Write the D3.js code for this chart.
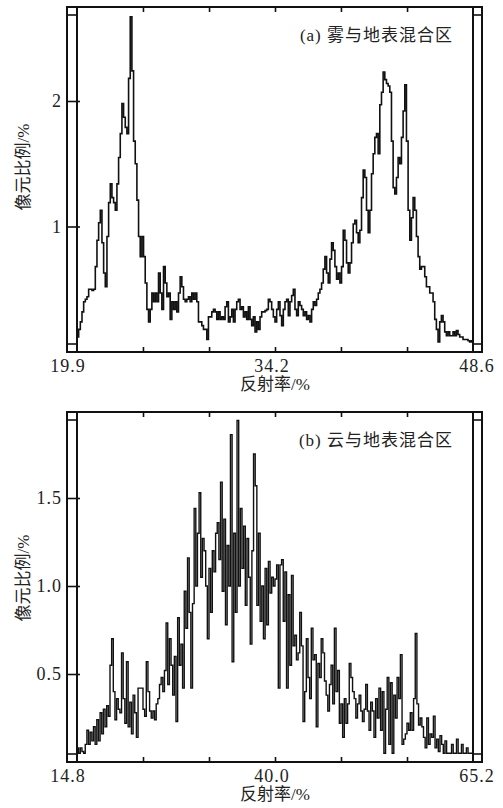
<!DOCTYPE html>
<html>
<head>
<meta charset="utf-8">
<script src="https://cdn.jsdelivr.net/npm/d3@7"></script>
<style>
  body { margin: 0; background: #fff; }
  svg { display: block; }
  .num { font-family: "Liberation Serif", "DejaVu Serif", serif; font-size: 18px; fill: #222; letter-spacing: 1px; }
  .cjk { font-family: "Liberation Serif", "Noto Sans CJK SC", sans-serif; font-size: 17px; fill: #222; }
  .title { font-family: "Liberation Serif", "Noto Sans CJK SC", sans-serif; font-size: 17px; fill: #222; letter-spacing: 1px; }
</style>
</head>
<body>
<svg id="chart" width="503" height="808"></svg>
<script>
// (a) fog / surface mixed area: reflectance range and pixel share per bin (%)
const fogRange = [19.9, 48.6];
const fogValues = [
  0.12,0.18,0.24,0.32,0.40,0.42,0.44,0.50,0.50,0.49,0.50,0.68,0.89,1.03,1.13,0.87,0.63,0.52,0.92,1.19,
  1.34,1.23,1.19,1.13,1.34,1.55,1.74,1.98,1.87,1.79,1.74,2.18,2.67,2.24,1.68,1.50,1.21,0.92,0.76,0.92,
  0.76,0.55,0.34,0.24,
  0.34,0.47,0.40,0.47,0.40,0.63,0.47,0.34,0.68,0.55,0.44,0.47,0.26,0.40,0.34,0.40,0.32,0.47,0.60,0.52,
  0.42,0.40,0.42,0.44,0.40,0.47,0.42,0.47,0.40,0.24,0.24,0.21,0.18,0.18,0.10,0.28,0.28,0.32,0.34,0.32,
  0.26,0.32,0.26,0.28,0.26,0.36,0.40,0.24,0.28,0.34,0.24,0.34,0.40,0.42,0.34,0.36,0.28,0.32,0.26,0.36,
  0.26,0.21,0.28,0.16,0.24,0.18,0.28,0.32,0.32,0.33,0.34,0.42,0.40,0.34,0.28,
  0.24,0.34,0.40,0.29,0.21,0.34,0.40,0.42,0.29,0.40,0.45,0.50,0.34,0.29,0.40,0.37,0.34,0.29,0.32,0.26,
  0.29,0.24,0.34,0.40,0.37,0.42,0.47,0.50,0.55,0.66,0.76,0.63,0.55,0.74,0.87,0.81,0.68,0.58,0.63,0.55,
  0.68,0.97,0.89,0.71,0.63,0.71,0.87,1.02,1.05,0.95,0.87,0.97,1.23,1.45,1.39,1.13,0.95,1.13,1.42,1.58,
  1.71,1.74,1.58,1.97,2.07,2.23,2.17,2.14,2.12,2.07,1.68,1.31,1.26,1.39,1.55,1.50,1.71,1.92,2.13,1.68,
  1.13,0.89,1.07,1.23,1.13,0.92,0.76,0.66,0.68,0.68,0.60,0.52,0.52,0.47,0.47,0.40,0.26,0.18,0.08,0.24,
  0.29,0.24,0.16,0.13,0.16,0.13,0.13,0.16,0.13,0.17,0.14,0.12,0.12,0.10,0.10,0.10,0.09,0.08,0.09
];
const fogXTicks = [24.68, 29.47, 34.25, 39.03, 43.82];
const fogXLabels = [[19.9, "19.9"], [34.25, "34.2"], [48.6, "48.6"]];
const fogYTicks = [1, 2];
const fogYLabels = ["1", "2"];

// (b) cloud / surface mixed area
const cloudRange = [14.8, 65.2];
const cloudValues = [
  0.08,0.05,0.08,0.06,0.05,0.10,0.18,0.10,0.17,0.12,0.20,0.10,0.24,0.12,0.28,0.16,0.30,0.20,0.32,0.26,
  0.55,0.70,0.40,0.24,0.36,0.30,0.28,0.62,0.36,0.22,0.57,0.20,0.34,0.16,0.38,0.28,0.14,0.42,0.42,0.42,
  0.30,0.26,0.57,0.40,0.29,0.25,0.29,0.24,0.33,0.36,0.44,0.48,0.40,0.52,0.79,0.44,0.70,0.55,0.38,0.60,
  0.23,0.82,0.55,0.67,0.42,0.97,0.76,1.16,0.85,0.42,0.90,1.44,1.00,1.30,1.53,1.05,1.27,1.20,1.00,0.70,
  1.10,0.85,1.20,1.08,1.30,1.36,1.15,1.59,0.97,1.38,0.78,1.23,1.00,1.86,0.57,1.30,0.85,1.94,1.00,1.44,
  1.10,1.34,0.89,1.27,1.05,0.67,1.20,1.75,1.57,0.89,1.30,0.80,1.00,0.70,1.10,0.78,1.14,0.96,1.05,1.00,
  1.04,1.12,0.42,1.12,1.15,0.80,1.08,0.42,0.95,0.55,1.06,0.66,0.72,0.58,0.62,0.85,0.66,0.23,0.40,0.70,
  0.48,0.36,0.76,0.58,0.61,0.20,0.56,0.48,0.70,0.62,0.46,0.38,0.29,0.44,0.55,0.33,0.76,0.40,0.52,0.22,
  0.33,0.14,0.36,0.22,0.33,0.56,0.48,0.40,0.36,0.25,0.33,0.38,0.29,0.23,0.30,0.44,0.29,0.18,0.34,0.29,
  0.14,0.36,0.25,0.42,0.18,0.40,0.05,0.30,0.48,0.10,0.45,0.05,0.38,0.25,0.48,0.36,0.61,0.10,0.13,0.16,
  0.22,0.18,0.28,0.18,0.36,0.73,0.33,0.21,0.25,0.20,0.14,0.08,0.25,0.10,0.16,0.14,0.26,0.08,0.13,0.06,
  0.15,0.10,0.05,0.12,0.05,0.05,0.05,0.10,0.05,0.05,0.13,0.05,0.05,0.10,0.05,0.05,0.08,0.05,0.05,0.05
];
const cloudXTicks = [23.2, 31.6, 40.0, 48.4, 56.8];
const cloudXLabels = [[14.8, "14.8"], [40.0, "40.0"], [65.2, "65.2"]];
const cloudYTicks = [0.5, 1.0, 1.5];
const cloudYLabels = ["0.5", "1.0", "1.5"];

const svg = d3.select("#chart");

// Draw one histogram panel
function drawPanel(cfg) {
  const g = svg.append("g");
  const frame = { x0: 67, x1: 482, y0: cfg.top, y1: cfg.bottom };

  const x = d3.scaleLinear().domain(cfg.range).range([77, 473]);
  const y = d3.scaleLinear().domain([0, cfg.yRef]).range([cfg.bottom, cfg.yRefPx]);

  // histogram bins -> step points
  const w = (cfg.range[1] - cfg.range[0]) / cfg.values.length;
  const pts = cfg.values.map((v, i) => [cfg.range[0] + i * w, v]);
  pts.push([cfg.range[1], cfg.values[cfg.values.length - 1]]);

  const line = d3.line()
    .x(d => x(d[0]))
    .y(d => y(d[1]))
    .curve(d3.curveStepAfter);

  g.append("path")
    .datum(pts)
    .attr("d", line)
    .attr("fill", "none")
    .attr("stroke", "#111")
    .attr("stroke-width", cfg.lineWidth);

  // outer frame
  g.append("rect")
    .attr("x", frame.x0).attr("y", frame.y0)
    .attr("width", frame.x1 - frame.x0).attr("height", frame.y1 - frame.y0)
    .attr("fill", "none").attr("stroke", "#111").attr("stroke-width", 2);

  // inner limits of the data range
  cfg.range.forEach(r => {
    g.append("line")
      .attr("x1", x(r)).attr("x2", x(r))
      .attr("y1", frame.y0).attr("y2", frame.y1)
      .attr("stroke", "#111").attr("stroke-width", 2);
  });

  // little corner bars
  [[frame.x0, x(cfg.range[0])], [x(cfg.range[1]), frame.x1]].forEach(([a, b]) => {
    [frame.y0 + 8, frame.y1 - 8].forEach(yy => {
      g.append("line")
        .attr("x1", a).attr("x2", b).attr("y1", yy).attr("y2", yy)
        .attr("stroke", "#111").attr("stroke-width", 1.6);
    });
  });

  // x ticks on top and bottom borders (pointing inward)
  g.append("g")
    .attr("transform", `translate(0,${frame.y1})`)
    .call(d3.axisBottom(x).tickValues(cfg.xTicks).tickSize(-5).tickFormat(""))
    .call(a => a.select(".domain").remove())
    .selectAll("line").attr("stroke", "#111").attr("stroke-width", 1.6);

  g.append("g")
    .attr("transform", `translate(0,${frame.y0})`)
    .call(d3.axisTop(x).tickValues(cfg.xTicks).tickSize(-5).tickFormat(""))
    .call(a => a.select(".domain").remove())
    .selectAll("line").attr("stroke", "#111").attr("stroke-width", 1.6);

  // x tick labels
  const dxs = [-9, -3, 4];
  cfg.xLabels.forEach(([v, t], i) => {
    g.append("text")
      .attr("class", "num")
      .attr("x", x(v) + dxs[i])
      .attr("y", frame.y1 + 20)
      .attr("text-anchor", "middle")
      .text(t);
  });

  // y ticks from the outer frame
  g.append("g")
    .attr("transform", `translate(${frame.x0},0)`)
    .call(d3.axisLeft(y).tickValues(cfg.yTicks).tickSize(-13).tickFormat(""))
    .call(a => a.select(".domain").remove())
    .selectAll("line").attr("stroke", "#111").attr("stroke-width", 1.6);

  cfg.yTicks.forEach((v, i) => {
    g.append("text")
      .attr("class", "num")
      .attr("x", 62)
      .attr("y", y(v))
      .attr("dy", "0.35em")
      .attr("text-anchor", "end")
      .text(cfg.yLabels[i]);
  });

  // axis titles
  g.append("text")
    .attr("class", "cjk")
    .attr("x", 275)
    .attr("y", frame.y1 + 38)
    .attr("text-anchor", "middle")
    .text("反射率/%");

  g.append("text")
    .attr("class", "cjk")
    .attr("transform", `translate(29,${cfg.yLabelMid}) rotate(-90)`)
    .attr("text-anchor", "middle")
    .text("像元比例/%");

  // panel caption
  g.append("text")
    .attr("class", "title")
    .attr("x", 453)
    .attr("y", frame.y0 + 34)
    .attr("text-anchor", "end")
    .text(cfg.caption);
}

drawPanel({
  top: 7, bottom: 352, yRef: 2, yRefPx: 101,
  range: fogRange, values: fogValues, lineWidth: 1.6,
  xTicks: fogXTicks, xLabels: fogXLabels,
  yTicks: fogYTicks, yLabels: fogYLabels,
  yLabelMid: 167, caption: "(a) 雾与地表混合区"
});

drawPanel({
  top: 412, bottom: 762, yRef: 1.5, yRefPx: 498,
  range: cloudRange, values: cloudValues, lineWidth: 1.4,
  xTicks: cloudXTicks, xLabels: cloudXLabels,
  yTicks: cloudYTicks, yLabels: cloudYLabels,
  yLabelMid: 578, caption: "(b) 云与地表混合区"
});
</script>
</body>
</html>
